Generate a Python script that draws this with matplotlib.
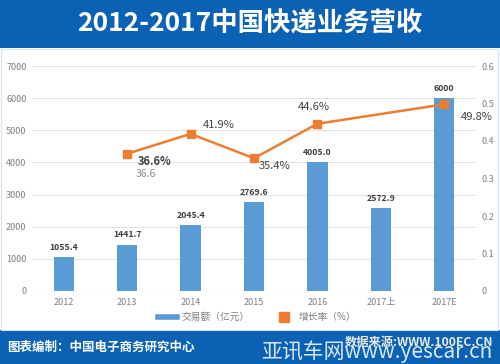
import matplotlib
matplotlib.use("Agg")
import matplotlib.pyplot as plt
from matplotlib.patches import Rectangle
from matplotlib.lines import Line2D

plt.rcParams['font.family'] = ['Noto Sans CJK SC', 'DejaVu Sans']

categories = ["2012", "2013", "2014", "2015", "2016", "2017上", "2017E"]
revenue = [1055.4, 1441.7, 2045.4, 2769.6, 4005.0, 2572.9, 6000]
revenue_labels = ["1055.4", "1441.7", "2045.4", "2769.6", "4005.0", "2572.9", "6000"]
growth_idx = [1, 2, 3, 4, 6]
growth = [0.366, 0.419, 0.354, 0.446, 0.498]
growth_labels = ["36.6%", "41.9%", "35.4%", "44.6%", "49.8%"]
left_ticks = [0, 1000, 2000, 3000, 4000, 5000, 6000, 7000]
right_ticks = [0, 0.1, 0.2, 0.3, 0.4, 0.5, 0.6]

BLUE_BANNER = "#0b62b5"
BAR = "#5b9bd5"
ORANGE = "#ed7d31"

W, H = 500, 364
fig = plt.figure(figsize=(5.0, 3.64), dpi=100)
fig.patch.set_facecolor("white")

def fx(px):
    return px / W

def fy(py):
    return 1 - py / H

# banners
fig.add_artist(Rectangle((0, fy(48)), 1, 48 / H, transform=fig.transFigure,
                         facecolor=BLUE_BANNER, edgecolor="none", zorder=0))
fig.add_artist(Rectangle((0, 0), 1, (H - 330) / H, transform=fig.transFigure,
                         facecolor=BLUE_BANNER, edgecolor="none", zorder=0))
fig.add_artist(Rectangle((fx(1), fy(330)), fx(497), (330 - 49) / H, transform=fig.transFigure,
                         facecolor="none", edgecolor="#d6e2ee", lw=0.8, zorder=0))

fig.text(0.5, fy(24), "2012-2017中国快递业务营收", color="white", fontsize=19,
         fontweight="bold", ha="center", va="center")

ax = fig.add_axes([fx(32), fy(291), fx(476 - 32), (291 - 66) / H])
x = list(range(len(categories)))
bars = ax.bar(x, revenue, width=0.32, color=BAR, zorder=2)
for xi, v, lab in zip(x, revenue, revenue_labels):
    ax.text(xi, v + 170, lab, ha="center", va="bottom", fontsize=6.3,
            fontweight="bold", color="#404040")

ax.set_xlim(-0.5, len(categories) - 0.5)
ax.set_ylim(0, 7000)
ax.set_yticks(left_ticks)
ax.set_xticks(x)
ax.set_xticklabels(categories)
ax.grid(axis="y", color="#e3e3e3", lw=0.8, zorder=0)
ax.set_axisbelow(True)
for s in ax.spines.values():
    s.set_visible(False)
ax.tick_params(axis="both", length=0, labelsize=6.5, colors="#7f7f7f")
ax.tick_params(axis="y", pad=4)
ax.tick_params(axis="x", pad=5)

ax2 = ax.twinx()
ax2.set_ylim(0, 0.6)
ax2.set_yticks(right_ticks)
ax2.set_yticklabels(["0", "0.1", "0.2", "0.3", "0.4", "0.5", "0.6"])
ax2.tick_params(axis="y", length=0, labelsize=6.5, colors="#7f7f7f", pad=4)
for s in ax2.spines.values():
    s.set_visible(False)
ax2.plot(growth_idx, growth, color=ORANGE, lw=1.8, marker="s", markersize=6,
         zorder=3)

offsets_px = [(27, -8), (28, 9), (21, -8), (-4, 17), (32, -13)]
weights = ["bold", "normal", "normal", "normal", "normal"]
for xi, g, lab, (dx, dy), wt in zip(growth_idx, growth, growth_labels, offsets_px, weights):
    ax2.annotate(lab, (xi, g), xytext=(dx * 0.72, dy * 0.72), textcoords="offset points",
                 ha="center", va="center", fontsize=8, color="#404040", fontweight=wt)
ax2.annotate("36.6", (growth_idx[0], growth[0]), xytext=(19 * 0.72, -20 * 0.72),
             textcoords="offset points", ha="center", va="center", fontsize=7.5,
             color="#8c8c8c")

handles = [Line2D([0], [0], color=BAR, lw=4),
           Line2D([0], [0], color=ORANGE, lw=0, marker="s", markersize=7)]
fig.legend(handles, ["交易额（亿元）", "增长率（%）"], loc="center",
           bbox_to_anchor=(fx(257), fy(317)), ncol=2, frameon=False,
           fontsize=7, labelcolor="#7f7f7f", handlelength=2.0, columnspacing=2.5,
           handletextpad=0.5)

fig.text(fx(7), fy(347), "图表编制：中国电子商务研究中心", color="white", fontsize=9,
         fontweight="bold", ha="left", va="center")
fig.text(fx(493), fy(342), "数据来源:WWW.100EC.CN", color="#e8e8e8", fontsize=8.8,
         fontweight="bold", ha="right", va="center")
fig.text(fx(492), fy(352), "亚讯车网www.yescar.cn", color="white", fontsize=15,
         ha="right", va="center", alpha=0.85)

fig.savefig("out.png", dpi=100)
